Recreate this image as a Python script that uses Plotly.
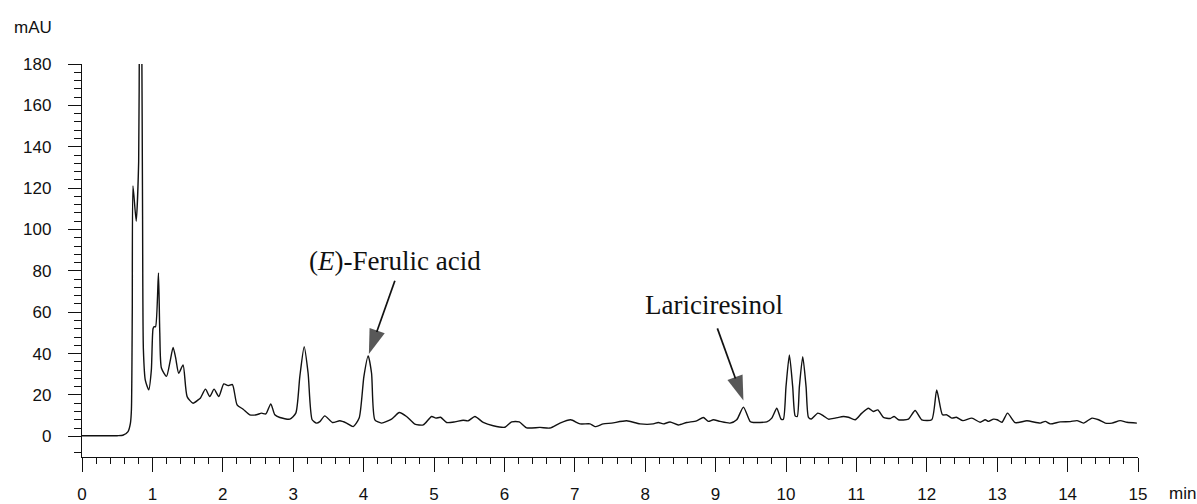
import plotly.graph_objects as go

# ---- data ----
time_min = [0.0, 0.5, 0.58, 0.654, 0.688, 0.702, 0.714, 0.724, 0.77, 0.805, 0.815, 0.83, 0.848, 0.86,
            0.872, 0.9, 0.948, 0.985, 1.009, 1.025, 1.045, 1.086, 1.105, 1.128, 1.2, 1.25, 1.294, 1.33,
            1.374, 1.436, 1.493, 1.578, 1.649, 1.68, 1.754, 1.815, 1.876, 1.943, 2.014, 2.075, 2.137,
            2.203, 2.289, 2.383, 2.478, 2.55, 2.611, 2.682, 2.739, 2.81, 2.952, 3.037, 3.094, 3.156,
            3.212, 3.269, 3.331, 3.378, 3.449, 3.558, 3.663, 3.758, 3.852, 3.937, 4.004, 4.065, 4.113,
            4.16, 4.255, 4.397, 4.44, 4.506, 4.61, 4.728, 4.847, 4.966, 5.027, 5.094, 5.179, 5.297,
            5.415, 5.486, 5.581, 5.699, 5.841, 6.008, 6.103, 6.211, 6.316, 6.505, 6.647, 6.789, 6.941,
            7.074, 7.216, 7.287, 7.405, 7.524, 7.737, 7.926, 8.115, 8.186, 8.257, 8.353, 8.471, 8.59,
            8.73, 8.826, 8.897, 8.968, 9.063, 9.205, 9.3, 9.395, 9.49, 9.537, 9.727, 9.798, 9.869,
            9.93, 9.963, 10.0, 10.048, 10.095, 10.13, 10.16, 10.19, 10.238, 10.285, 10.319, 10.36,
            10.452, 10.532, 10.603, 10.698, 10.816, 10.887, 10.982, 11.077, 11.171, 11.242, 11.304,
            11.384, 11.479, 11.536, 11.597, 11.739, 11.834, 11.928, 12.07, 12.141, 12.222, 12.284,
            12.355, 12.42, 12.513, 12.64, 12.758, 12.83, 12.877, 12.948, 13.0, 13.067, 13.147, 13.256,
            13.422, 13.612, 13.683, 13.754, 13.896, 14.038, 14.133, 14.227, 14.346, 14.44, 14.535,
            14.63, 14.748, 14.843, 14.984]
absorbance_mau = [0.3, 0.3, 0.5, 2.3, 6.4, 12.8, 60, 121, 104, 133, 200, 260, 200, 110,
                  42, 27, 22.5, 32, 52, 53, 53, 79, 50, 33, 29, 36, 43, 38,
                  30.5, 34.5, 19.2, 16, 17.6, 18.4, 22.8, 19.2, 22.8, 19.2, 25.3, 24.5, 25,
                  15.2, 13.1, 10.4, 10.4, 11.2, 10.8, 15.7, 10.4, 9.1, 8.3, 11.2, 28.9, 43.3,
                  30.5, 8, 6.4, 7.1, 9.9, 6.7, 7.5, 6.4, 4.7, 8.8, 28.9, 38.9, 30.5,
                  8, 6.4, 8.3, 9.6, 11.5, 9.6, 5.9, 5.5, 9.6, 8.8, 9.2, 6.7, 7.0,
                  7.8, 7.5, 9.6, 6.7, 5.1, 4.4, 7.0, 7.0, 4.1, 4.3, 4.0, 6.4, 8.0,
                  6.0, 6.0, 4.7, 6.0, 6.4, 7.5, 6.0, 6.0, 6.7, 6.0, 6.9, 5.5, 6.7,
                  7.5, 9.1, 7.2, 8.0, 7.2, 6.4, 8.0, 14.1, 7.2, 6.7, 7.0, 8.8, 13.6,
                  8.3, 8.3, 24, 39.3, 24, 9.9, 9.6, 24, 38.5, 24, 9.2, 8.4,
                  11.2, 9.9, 8.3, 8.8, 9.6, 9.2, 8.0, 11.2, 13.6, 12.0, 12.8,
                  9.2, 8.6, 9.6, 8.0, 8.3, 12.5, 8.0, 8.0, 22.4, 10.4, 10.4,
                  8.8, 9.2, 7.6, 8.8, 6.8, 8.0, 7.2, 8.3, 8.0, 6.8, 11.2, 6.6,
                  7.5, 6.4, 7.2, 6.0, 7.0, 7.1, 7.6, 6.4, 8.8, 8.0, 6.4,
                  6.4, 7.6, 6.8, 6.4]

x_major_ticks = list(range(0, 16))
y_major_ticks = list(range(0, 181, 20))
y_minor_ticks = [-8] + [v for v in range(4, 180, 4) if v % 20]

peak_labels = ["(<i>E</i>)-Ferulic acid", "Lariciresinol"]
label_x = [4.444, 8.971]
label_y = [85.0, 63.6]
arrow_tail_x = [4.444, 9.025]
arrow_tail_y = [75.2, 52.2]
arrow_tip_x = [4.075, 9.395]
arrow_tip_y = [39.8, 17.3]

INK = "#111111"

fig = go.Figure()
fig.add_trace(go.Scatter(
    x=time_min, y=absorbance_mau, mode="lines",
    line=dict(color=INK, width=1.4, shape="spline", smoothing=0.6),
    hoverinfo="skip", showlegend=False,
))

for tx, ty, hx, hy in zip(arrow_tail_x, arrow_tail_y, arrow_tip_x, arrow_tip_y):
    fig.add_trace(go.Scatter(
        x=[tx, hx], y=[ty, hy], mode="lines+markers",
        line=dict(color=INK, width=1.7),
        marker=dict(symbol=["circle", "arrow"], size=[0, 26], angleref="previous",
                    color=INK, line=dict(width=0)),
        hoverinfo="skip", showlegend=False,
    ))

for txt, lx, ly in zip(peak_labels, label_x, label_y):
    fig.add_annotation(x=lx, y=ly, xref="x", yref="y", text=txt, showarrow=False,
                       xanchor="center", yanchor="middle",
                       font=dict(family="Liberation Serif, Times New Roman, serif", size=27, color=INK))

fig.add_annotation(x=-0.0663, y=1.094, xref="paper", yref="paper", text="mAU", showarrow=False,
                   xanchor="left", yanchor="middle",
                   font=dict(family="Liberation Sans, Arial, sans-serif", size=17, color=INK))
fig.add_annotation(x=1.0275, y=-0.093, xref="paper", yref="paper", text="min", showarrow=False,
                   xanchor="left", yanchor="middle",
                   font=dict(family="Liberation Sans, Arial, sans-serif", size=17, color=INK))

fig.update_layout(
    width=1197, height=504,
    margin=dict(l=82, r=59, t=64, b=47, autoexpand=False),
    paper_bgcolor="white", plot_bgcolor="white",
    font=dict(family="Liberation Sans, Arial, sans-serif", size=17, color=INK),
    xaxis=dict(range=[0, 15], tickmode="array", tickvals=x_major_ticks, automargin=False,
               ticks="outside", ticklen=14, tickwidth=1.4, tickcolor=INK,
               showline=True, linecolor=INK, linewidth=1.4,
               showgrid=False, zeroline=False, ticklabelstandoff=7,
               minor=dict(tickmode="linear", tick0=0, dtick=0.2, ticks="outside", ticklen=6,
                          tickwidth=1.4, tickcolor=INK, showgrid=False)),
    yaxis=dict(range=[-10, 180], tickmode="array", tickvals=y_major_ticks, automargin=False,
               ticks="outside", ticklen=13, tickwidth=1.4, tickcolor=INK,
               showline=True, linecolor=INK, linewidth=1.4,
               showgrid=False, zeroline=False, ticklabelstandoff=13,
               minor=dict(tickmode="array", tickvals=y_minor_ticks, ticks="outside", ticklen=7,
                          tickwidth=1.4, tickcolor=INK, showgrid=False)),
)

fig.write_html("out.html", config={"displayModeBar": False},
               post_script="document.body.style.margin='0px';document.body.style.overflow='hidden';")
